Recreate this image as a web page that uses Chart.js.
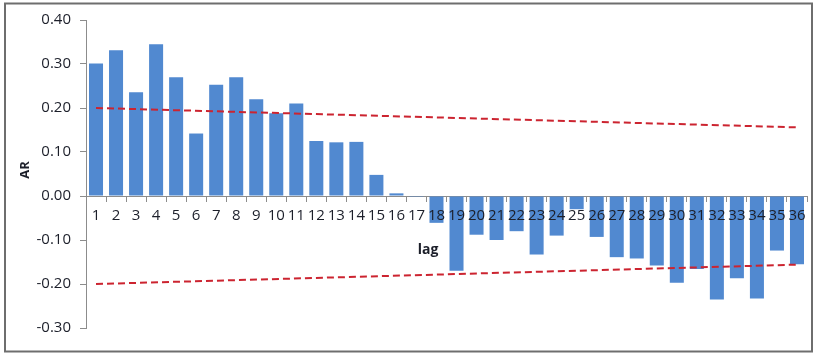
<!DOCTYPE html>
<html>
<head>
<meta charset="utf-8">
<script src="https://cdn.jsdelivr.net/npm/chart.js@4"></script>
<style>
  html, body { margin: 0; padding: 0; background: #ffffff; }
  canvas { display: block; }
</style>
</head>
<body>
<canvas id="acf" width="815" height="354"></canvas>
<script>
// Lags 1..36
const lags = ['1','2','3','4','5','6','7','8','9','10','11','12','13','14','15','16','17','18',
              '19','20','21','22','23','24','25','26','27','28','29','30','31','32','33','34','35','36'];

// Autocorrelation at each lag
const arValues = [0.301, 0.331, 0.236, 0.345, 0.270, 0.142, 0.253, 0.270, 0.220, 0.188,
                  0.210, 0.125, 0.122, 0.123, 0.048, 0.006, -0.002, -0.061, -0.170, -0.088,
                  -0.100, -0.080, -0.133, -0.090, -0.030, -0.093, -0.139, -0.142, -0.158, -0.197,
                  -0.166, -0.235, -0.187, -0.233, -0.124, -0.155];

// Confidence band end points (lag 1 and lag 36)
const upperBand = [0.200, 0.156];
const lowerBand = [-0.200, -0.156];

// Value axis ticks
const yTicks = [-0.30, -0.20, -0.10, 0.00, 0.10, 0.20, 0.30, 0.40];

const FONT = "'Open Sans', 'Liberation Sans', sans-serif";
const AXIS_GREY = '#8c8c8c';
const BAR_BLUE = '#5189d0';
const BAND_RED = '#cc2430';
const TEXT = '#1c1f2a';

const bandLine = (ends) => [
  { x: lags[0], y: ends[0] },
  { x: lags[lags.length - 1], y: ends[1] }
];

// Lag labels sit on the zero line and are painted over the bars
const lagLabels = {
  id: 'lagLabels',
  afterDatasetsDraw(chart) {
    const ctx = chart.ctx;
    const xs = chart.scales.x;
    const ys = chart.scales.y;
    const base = ys.getPixelForValue(0);
    ctx.save();
    ctx.fillStyle = TEXT;
    ctx.font = '15px ' + FONT;
    ctx.textAlign = 'center';
    ctx.textBaseline = 'middle';
    lags.forEach((lab, i) => {
      ctx.fillText(lab, xs.getPixelForValue(i), base + 20);
    });
    ctx.restore();
  }
};

const decorations = {
  id: 'decorations',
  afterDraw(chart) {
    const ctx = chart.ctx;
    ctx.save();
    // outer frame
    ctx.strokeStyle = '#6e6e6e';
    ctx.lineWidth = 2;
    ctx.strokeRect(5, 3.5, 807, 348);
    // axis titles
    ctx.fillStyle = TEXT;
    ctx.textAlign = 'center';
    ctx.textBaseline = 'middle';
    ctx.font = 'bold 13px ' + FONT;
    ctx.translate(25, 170);
    ctx.rotate(-Math.PI / 2);
    ctx.fillText('AR', 0, 0);
    ctx.restore();

    ctx.save();
    ctx.fillStyle = TEXT;
    ctx.textAlign = 'center';
    ctx.textBaseline = 'middle';
    ctx.font = 'bold 14px ' + FONT;
    ctx.fillText('lag', 428, 250);
    ctx.restore();
  }
};

new Chart(document.getElementById('acf'), {
  data: {
    labels: lags,
    datasets: [
      {
        type: 'line',
        data: bandLine(upperBand),
        borderColor: BAND_RED,
        borderWidth: 2,
        borderDash: [7, 4],
        pointRadius: 0,
        fill: false,
        order: 0
      },
      {
        type: 'line',
        data: bandLine(lowerBand),
        borderColor: BAND_RED,
        borderWidth: 2,
        borderDash: [7, 4],
        pointRadius: 0,
        fill: false,
        order: 0
      },
      {
        type: 'bar',
        data: arValues,
        backgroundColor: BAR_BLUE,
        borderWidth: 0,
        barPercentage: 0.7,
        categoryPercentage: 1.0,
        order: 1
      }
    ]
  },
  options: {
    responsive: false,
    animation: false,
    layout: { padding: { left: 0, right: 8, top: 20, bottom: 26 } },
    plugins: {
      legend: { display: false },
      tooltip: { enabled: false }
    },
    scales: {
      x: {
        type: 'category',
        position: { y: 0 },
        offset: true,
        grid: {
          offset: true,
          drawOnChartArea: false,
          drawTicks: true,
          tickLength: 5,
          color: AXIS_GREY
        },
        border: { display: true, color: AXIS_GREY, width: 1 },
        ticks: { display: false, autoSkip: false }
      },
      y: {
        type: 'linear',
        position: 'left',
        min: yTicks[0],
        max: yTicks[yTicks.length - 1],
        afterFit(scale) { scale.width = 86; },
        afterBuildTicks(scale) { scale.ticks = yTicks.map(v => ({ value: v })); },
        grid: {
          drawOnChartArea: false,
          drawTicks: true,
          tickLength: 6,
          color: AXIS_GREY
        },
        border: { display: true, color: AXIS_GREY, width: 1 },
        ticks: {
          color: TEXT,
          font: { family: FONT, size: 15 },
          padding: 9,
          callback: (v) => Number(v).toFixed(2)
        }
      }
    }
  },
  plugins: [lagLabels, decorations]
});
</script>
</body>
</html>
